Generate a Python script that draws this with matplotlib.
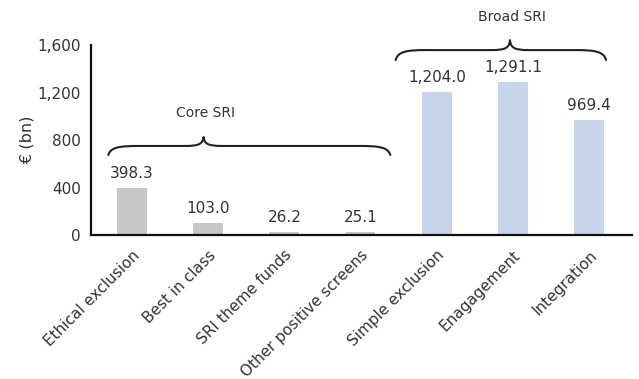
import matplotlib.pyplot as plt
from matplotlib.path import Path
from matplotlib.patches import PathPatch

categories = ['Ethical exclusion', 'Best in class', 'SRI theme funds',
              'Other positive screens', 'Simple exclusion', 'Enagagement',
              'Integration']
values = [398.3, 103.0, 26.2, 25.1, 1204.0, 1291.1, 969.4]
groups = ['core', 'core', 'core', 'core', 'broad', 'broad', 'broad']
yticks = [0, 400, 800, 1200, 1600]

colours = {'core': '#c6c6c8', 'broad': '#c6d5ea'}
text_col = '#333333'

plt.rcParams['font.family'] = ['DejaVu Sans']


def brace(ax, x0, x1, xt, ye, yf, yt):
    '''
    draw a curly brace from x0 to x1 with its tip at xt (data coords)
    '''
    verts = [(x0, ye),
             (x0 + 0.03, yf - 10), (x0 + 0.15, yf), (x0 + 0.4, yf),
             (xt - 0.25, yf),
             (xt - 0.05, yf), (xt - 0.01, yf + 20), (xt, yt),
             (xt + 0.01, yf + 20), (xt + 0.05, yf), (xt + 0.25, yf),
             (x1 - 0.4, yf),
             (x1 - 0.15, yf), (x1 - 0.03, yf - 10), (x1, ye)]
    codes = [Path.MOVETO,
             Path.CURVE4, Path.CURVE4, Path.CURVE4,
             Path.LINETO,
             Path.CURVE4, Path.CURVE4, Path.CURVE4,
             Path.CURVE4, Path.CURVE4, Path.CURVE4,
             Path.LINETO,
             Path.CURVE4, Path.CURVE4, Path.CURVE4]
    patch = PathPatch(Path(verts, codes), fill=False, lw=1.5,
                      edgecolor='#222222', clip_on=False,
                      capstyle='round', joinstyle='round')
    ax.add_patch(patch)


fig = plt.figure(figsize=(6.39, 3.79), dpi=100)
ax = fig.add_axes([0.142, 0.380, 0.847, 0.501])

x = range(len(categories))
ax.bar(x, values, width=0.39, color=[colours[g] for g in groups])

for i, v in zip(x, values):
    ax.annotate(f'{v:,.1f}', (i, v), xytext=(0, 5), textcoords='offset points',
                ha='center', va='bottom', fontsize=11, color=text_col)

ax.set_xlim(-0.54, 6.56)
ax.set_ylim(0, 1600)
ax.set_yticks(yticks)
ax.set_yticklabels([f'{t:,}' for t in yticks], fontsize=11, color=text_col)
ax.set_xticks(list(x))
ax.set_xticklabels(categories, rotation=45, ha='right', rotation_mode='anchor',
                   fontsize=11, color=text_col)
ax.tick_params(axis='y', length=0, pad=7)
ax.tick_params(axis='x', length=0, pad=9)
ax.set_ylabel('€ (bn)', fontsize=11.5, color=text_col, labelpad=2)

for side in ['top', 'right']:
    ax.spines[side].set_visible(False)
for side in ['left', 'bottom']:
    ax.spines[side].set_linewidth(1.6)
    ax.spines[side].set_color('#111111')

brace(ax, -0.31, 3.39, 0.94, 674, 750, 825)
ax.text(0.96, 1030, 'Core SRI', ha='center', va='center', fontsize=10,
        color=text_col)
brace(ax, 3.46, 6.22, 4.96, 1474, 1558, 1642)
ax.text(4.98, 1840, 'Broad SRI', ha='center', va='center', fontsize=10,
        color=text_col, clip_on=False)

fig.savefig('out.png', dpi=100)
